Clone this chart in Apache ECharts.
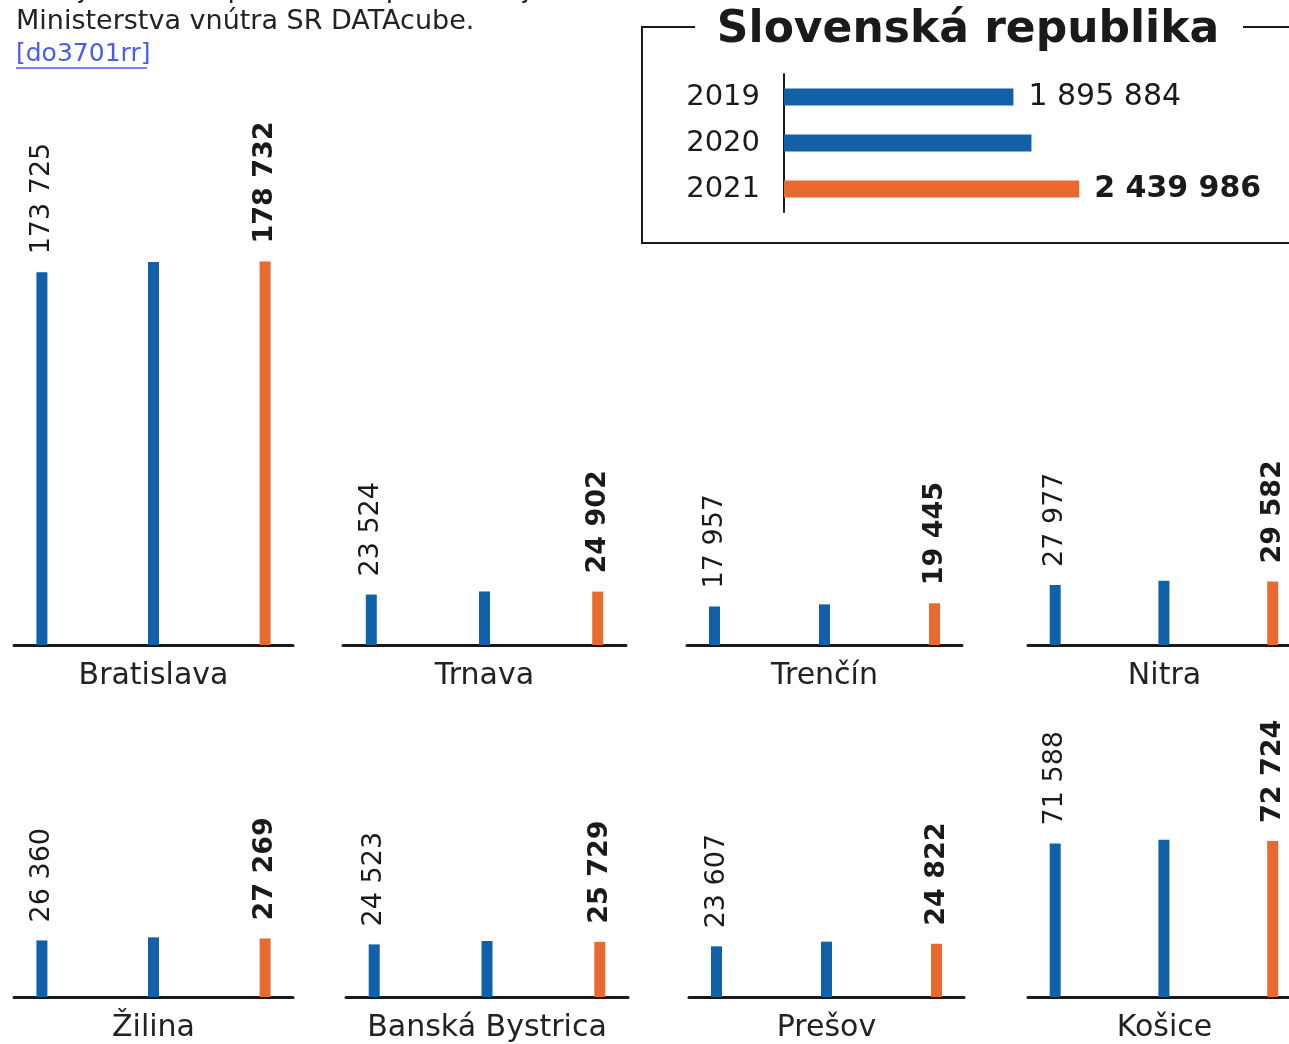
<!DOCTYPE html>
<html>
<head>
<meta charset="utf-8">
<script src="https://cdn.jsdelivr.net/npm/echarts@6/dist/echarts.min.js"></script>
<style>
html,body{margin:0;padding:0;background:#fff;}
#chart{width:1289px;height:1044px;}
</style>
</head>
<body>
<div id="chart"></div>
<script>
// ---- data ----
const regions = ['Bratislava', 'Trnava', 'Trenčín', 'Nitra', 'Žilina', 'Banská Bystrica', 'Prešov', 'Košice'];
const years = ['2019', '2020', '2021'];
const v2019 = [173725, 23524, 17957, 27977, 26360, 24523, 23607, 71588];
const v2020 = [178600, 24950, 18950, 29950, 27800, 26100, 25800, 73300];
const v2021 = [178732, 24902, 19445, 29582, 27269, 25729, 24822, 72724];
const slovakia = [1895884, 2045000, 2439986];
const titleText = 'Slovenská republika';
const sourceLines = ['Zdroj: Vlastné spracovanie podľa údajov', 'Ministerstva vnútra SR DATAcube.'];
const linkText = '[do3701rr]';

// ---- layout ----
const FONT = '"DejaVu Sans", sans-serif';
const BLUE = '#1160a8';
const ORANGE = '#e86a2e';
const INK = '#1a1a1a';
const panelLeft = [14, 343, 687, 1028, 14, 346, 689, 1028];
const panelWidth = [279, 283, 275, 261, 279, 282, 275, 261];
const panelXMax = [2.25, 2.25, 2.25, 2.15, 2.25, 2.25, 2.25, 2.15];
const namePadLeft = [0, 0, 0, 12, 0, 0, 0, 12];
const rowAxisY = [645, 645, 645, 645, 997, 997, 997, 997];
const panelMax = 200000;
const panelHeight = 429;

const fmt = v => String(v).replace(/\B(?=(\d{3})+(?!\d))/g, ' ');

const grids = [], xAxes = [], yAxes = [], series = [];

regions.forEach((name, i) => {
  grids.push({ left: panelLeft[i], width: panelWidth[i], top: rowAxisY[i] - panelHeight, height: panelHeight });
  xAxes.push({
    gridIndex: i, type: 'value', min: -0.25, max: panelXMax[i],
    axisLine: { show: true, lineStyle: { color: INK, width: 3 } },
    axisTick: { show: false }, axisLabel: { show: false }, splitLine: { show: false },
    name: name, nameLocation: 'middle', nameGap: 16,
    nameTextStyle: { fontFamily: FONT, fontSize: 30, color: '#222', verticalAlign: 'top', padding: [0, 0, 0, namePadLeft[i]] }
  });
  yAxes.push({ gridIndex: i, type: 'value', min: 0, max: panelMax, show: false });
  const vals = [v2019[i], v2020[i], v2021[i]];
  series.push({
    type: 'bar', xAxisIndex: i, yAxisIndex: i, barWidth: 11, silent: true,
    data: vals.map((v, k) => ({
      value: [k, v],
      itemStyle: { color: k === 2 ? ORANGE : BLUE },
      label: {
        show: k !== 1, position: 'top', rotate: 90, align: 'left', verticalAlign: 'middle',
        distance: 18, fontFamily: FONT, fontSize: 27, color: INK,
        fontWeight: k === 2 ? 'bold' : 'normal',
        formatter: p => fmt(p.value[1])
      }
    }))
  });
});

// inset: Slovakia
const gi = regions.length;
grids.push({ left: 784, top: 74, height: 138, width: 484 });
xAxes.push({ gridIndex: gi, type: 'value', min: 0, max: 4000000, show: false });
yAxes.push({
  gridIndex: gi, type: 'category', data: years, inverse: true,
  axisLine: { show: true, lineStyle: { color: INK, width: 2 } },
  axisTick: { show: false },
  axisLabel: { fontFamily: FONT, fontSize: 29, color: INK, margin: 24 }
});
series.push({
  type: 'bar', xAxisIndex: gi, yAxisIndex: gi, barWidth: 17, silent: true,
  data: slovakia.map((v, k) => ({
    value: v,
    itemStyle: { color: k === 2 ? ORANGE : BLUE },
    label: {
      show: k !== 1, position: 'right', distance: 15,
      fontFamily: FONT, fontSize: 30, color: INK,
      fontWeight: k === 2 ? 'bold' : 'normal',
      formatter: p => fmt(p.value)
    }
  }))
});

const lineStyle = { stroke: INK, lineWidth: 2 };
const graphic = [
  { type: 'line', shape: { x1: 642, y1: 27, x2: 642, y2: 244 }, style: lineStyle },
  { type: 'line', shape: { x1: 641, y1: 243, x2: 1289, y2: 243 }, style: lineStyle },
  { type: 'line', shape: { x1: 641, y1: 27, x2: 695, y2: 27 }, style: lineStyle },
  { type: 'line', shape: { x1: 1243, y1: 27, x2: 1289, y2: 27 }, style: lineStyle },
  { type: 'text', x: 968, y: 31, style: { text: titleText, fontFamily: FONT, fontSize: 44, fontWeight: 'bold', fill: INK, align: 'center', verticalAlign: 'middle' } },
  { type: 'text', x: 16, y: -10, style: { text: sourceLines[0], fontFamily: FONT, fontSize: 27, fill: '#222', align: 'left', verticalAlign: 'middle' } },
  { type: 'text', x: 16, y: 22, style: { text: sourceLines[1], fontFamily: FONT, fontSize: 27, fill: '#222', align: 'left', verticalAlign: 'middle' } },
  { type: 'text', x: 16, y: 54, style: { text: linkText, fontFamily: FONT, fontSize: 25, fill: '#4a5cf0', align: 'left', verticalAlign: 'middle' } },
  { type: 'line', shape: { x1: 16, y1: 68, x2: 147, y2: 68 }, style: { stroke: '#4a5cf0', lineWidth: 1.5 } }
];

const chart = echarts.init(document.getElementById('chart'), null, { renderer: 'canvas' });
chart.setOption({
  animation: false,
  backgroundColor: '#fff',
  grid: grids, xAxis: xAxes, yAxis: yAxes, series: series, graphic: graphic
});
</script>
</body>
</html>
